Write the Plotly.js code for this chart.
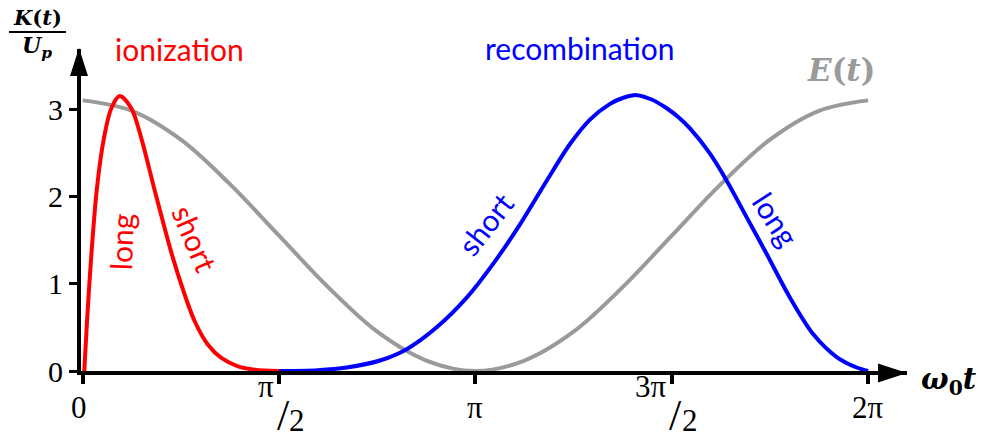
<!DOCTYPE html>
<html>
<head>
<meta charset="utf-8">
<script src="https://cdn.plot.ly/plotly-3.0.1.min.js"></script>
<style>
  html, body { margin: 0; padding: 0; background: #fff; }
  #chart { width: 988px; height: 440px; }
</style>
</head>
<body>
<div id="chart"></div>
<script>
// Phase is expressed in units of pi (0 .. 2 covers one optical cycle).

// Laser field E(t), drawn on the same scale as the energy
const fieldPhase = [0, 0.125, 0.25, 0.375, 0.5, 0.625, 0.75, 0.875, 1,
                    1.125, 1.25, 1.375, 1.5, 1.625, 1.75, 1.875, 2];
const fieldValue = [3.10, 2.98, 2.65, 2.14, 1.55, 0.96, 0.45, 0.12, 0.00,
                    0.12, 0.45, 0.96, 1.55, 2.14, 2.65, 2.98, 3.10];

// Return energy K/Up versus ionization phase
const ionPhase = [0.004, 0.011, 0.022, 0.0364, 0.0542, 0.0729, 0.0942, 0.1238, 0.149,
                  0.1816, 0.2274, 0.2597, 0.2852, 0.319, 0.353, 0.3955, 0.438, 0.5];
const ionEnergy = [0, 0.57, 1.33, 2.10, 2.67, 3.01, 3.15, 3.01, 2.67,
                   2.10, 1.33, 0.874, 0.57, 0.30, 0.149, 0.054, 0.015, 0];

// Return energy K/Up versus recombination phase
const recPhase = [0.5, 0.599, 0.6723, 0.7571, 0.8251, 0.9015, 0.9778, 1.0456, 1.1136,
                  1.1816, 1.2409, 1.2918, 1.3428, 1.377, 1.4107, 1.449, 1.4871, 1.5164,
                  1.5464, 1.5974, 1.6399, 1.6909, 1.7418, 1.8011, 1.8605, 1.92, 1.971, 2.0];
const recEnergy = [0, 0.01, 0.04, 0.12, 0.25, 0.50, 0.84, 1.23, 1.68,
                   2.18, 2.60, 2.88, 3.06, 3.13, 3.16, 3.11, 3.01, 2.91,
                   2.78, 2.49, 2.18, 1.76, 1.34, 0.84, 0.42, 0.16, 0.04, 0];

const xTickVals = [0, 0.5, 1, 1.5, 2];
const xTickText = ['0', 'π/2', 'π', '3π/2', '2π'];
const yTickVals = [0, 1, 2, 3];

const RED = '#ff0000', BLUE = '#0000ff', GRAY = '#9a9a9a';
const SERIF = '"Liberation Serif", "DejaVu Serif", serif';
const MATH = '"DejaVu Serif", "Liberation Serif", serif';
const SANS = 'Lato, "Open Sans", sans-serif';

// layout geometry (pixels)
const W = 988, H = 440;
const M = { l: 81, r: 81, t: 49, b: 69 };
const PX_PER_PI = 392.7, PX_PER_UNIT = 87.3, X0_PX = 82.7;
const plotW = W - M.l - M.r, plotH = H - M.t - M.b, BOTTOM = H - M.b;
const xRange = [-(X0_PX - M.l) / PX_PER_PI, (W - M.r - X0_PX) / PX_PER_PI];
const yRange = [0, plotH / PX_PER_UNIT];
const paperX = p => (p - M.l) / plotW;
const paperY = p => (BOTTOM - p) / plotH;

const traces = [
  { x: fieldPhase, y: fieldValue, mode: 'lines', line: { color: GRAY, width: 4, shape: 'spline' }, hoverinfo: 'skip' },
  { x: ionPhase, y: ionEnergy, mode: 'lines', line: { color: RED, width: 4, shape: 'spline', smoothing: 0.9 }, hoverinfo: 'skip' },
  { x: recPhase, y: recEnergy, mode: 'lines', line: { color: BLUE, width: 4, shape: 'spline', smoothing: 0.9 }, hoverinfo: 'skip' }
];

const annotations = [];
// text placed at a pixel position of the page
const txt = (text, px, py, font, extra) => annotations.push(Object.assign({
  text: text, x: paperX(px), y: paperY(py), xref: 'paper', yref: 'paper', showarrow: false,
  xanchor: 'center', yanchor: 'middle', font: font
}, extra || {}));
// text placed relative to an x tick
const tickTxt = (text, v, dx, dy, xanchor, size) => annotations.push({
  text: text, x: v, y: 0, xref: 'x', yref: 'paper', showarrow: false,
  xanchor: xanchor, yanchor: 'middle', xshift: dx, yshift: dy,
  font: { family: SERIF, size: size, color: '#000' }
});

// x tick labels; fractions as raised numerator, tall slash, lowered denominator
xTickVals.forEach((v, i) => {
  const t = xTickText[i];
  if (t.indexOf('/') >= 0) {
    const [num, den] = t.split('/');
    tickTxt(num, v, -3, -15, 'right', 31);
    tickTxt('/', v, 4, -44, 'center', 44);
    tickTxt(den, v, 8, -49, 'left', 31);
  } else {
    tickTxt(t, v, v === 0 ? -4 : 0, -36, 'center', 31);
  }
});

// axis titles
const mathFont = (size, color) => ({ family: MATH, size: size, color: color });
txt('<b><i>K</i>(<i>t</i>)</b>', 37, 17, mathFont(21, '#000'));
txt('<b><i>U<sub>p</sub></i></b>', 37, 47, mathFont(22, '#000'));
txt('<b><i>ω</i><sub>0</sub><i>t</i></b>', 949, 381, mathFont(29, '#000'));
txt('<b><i>E</i>(<i>t</i>)</b>', 841, 70, mathFont(31, GRAY));

// curve labels
const sans = c => ({ family: SANS, size: 30, color: c });
txt('ionization', 179, 49, sans(RED));
txt('recombination', 580, 48, sans(BLUE));
txt('long', 121, 242, sans(RED), { textangle: -88 });
txt('short', 195, 238, sans(RED), { textangle: 67 });
txt('short', 485, 224, sans(BLUE), { textangle: -52 });
txt('long', 776, 219, sans(BLUE), { textangle: 57 });

const shapes = [
  // arrowhead at the end of the phase axis
  { type: 'path', xref: 'paper', yref: 'paper', xsizemode: 'pixel', ysizemode: 'pixel',
    xanchor: 1, yanchor: 0, path: 'M -29,7.5 L 0,-2 L -29,-11.5 Z',
    fillcolor: '#000', line: { width: 0 } },
  // arrowhead at the top of the energy axis
  { type: 'path', xref: 'paper', yref: 'paper', xsizemode: 'pixel', ysizemode: 'pixel',
    xanchor: 0, yanchor: 1, path: 'M -11,-27 L -2,1 L 7,-27 Z',
    fillcolor: '#000', line: { width: 0 } },
  // fraction bar of the energy axis title
  { type: 'path', xref: 'paper', yref: 'paper', xsizemode: 'pixel', ysizemode: 'pixel',
    xanchor: 0, yanchor: 1, path: 'M -72,17 L -15,17',
    line: { color: '#000', width: 2 } }
];

const layout = {
  width: W, height: H,
  margin: M,
  paper_bgcolor: '#fff', plot_bgcolor: '#fff',
  showlegend: false,
  xaxis: {
    range: xRange, showgrid: false, zeroline: false,
    showline: true, linecolor: '#000', linewidth: 4,
    tickmode: 'array', tickvals: xTickVals, showticklabels: false,
    ticks: 'outside', ticklen: 9, tickwidth: 4, tickcolor: '#000'
  },
  yaxis: {
    range: yRange, showgrid: false, zeroline: false,
    showline: true, linecolor: '#000', linewidth: 4,
    tickmode: 'array', tickvals: yTickVals, ticktext: yTickVals.map(String),
    ticks: 'outside', ticklen: 8, tickwidth: 3, tickcolor: '#000',
    tickfont: { family: SERIF, size: 30, color: '#000' }
  },
  annotations: annotations,
  shapes: shapes
};

Plotly.newPlot('chart', traces, layout, { staticPlot: true, displayModeBar: false });
</script>
</body>
</html>
